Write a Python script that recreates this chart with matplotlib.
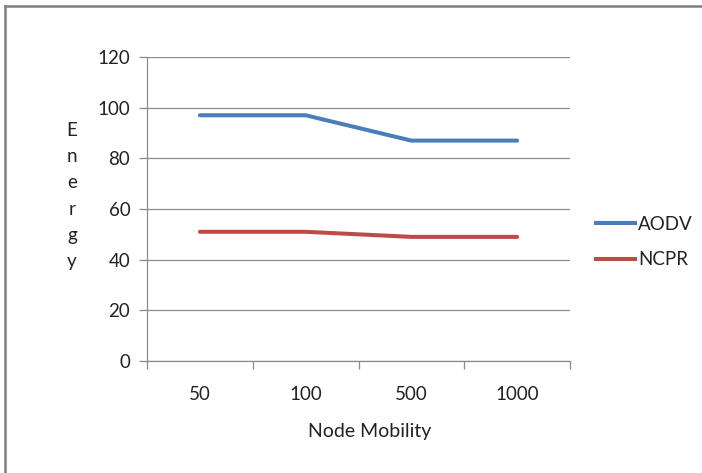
import matplotlib.pyplot as plt
from matplotlib.lines import Line2D

plt.rcParams['font.family'] = ['Lato', 'DejaVu Sans']

mobility = ['50', '100', '500', '1000']
aodv = [97, 97, 87, 87]
ncpr = [51, 51, 49, 49]

W, H = 702, 473
fig = plt.figure(figsize=(W / 100, H / 100), dpi=100)
ax = fig.add_axes([147 / W, 1 - 361 / H, (570 - 147) / W, (361 - 57) / H])

x = range(len(mobility))
ax.plot(x, aodv, color='#4A7EBB', lw=2.9, solid_capstyle='round', label='AODV')
ax.plot(x, ncpr, color='#BE4B48', lw=2.9, solid_capstyle='round', label='NCPR')

ax.set_xlim(-0.5, len(mobility) - 0.5)
ax.set_ylim(0, 120)
ax.set_yticks(range(0, 121, 20))
ax.yaxis.grid(True, color='#8c8c8c', lw=0.9)
ax.set_axisbelow(True)

# category labels sit between the tick marks, like an Excel category axis
ax.set_xticks(list(x))
ax.set_xticklabels(mobility)
ax.set_xticks([i - 0.5 for i in range(len(mobility) + 1)], minor=True)
ax.tick_params(axis='x', which='major', length=0, pad=18, labelsize=13.5, colors='#222222')
ax.tick_params(axis='x', which='minor', length=6, color='#8c8c8c', width=0.9)
ax.tick_params(axis='y', length=6, color='#8c8c8c', width=0.9, pad=6, labelsize=13.5, labelcolor='#222222')

for side in ['top', 'right']:
    ax.spines[side].set_visible(False)
for side in ['left', 'bottom']:
    ax.spines[side].set_color('#8c8c8c')
    ax.spines[side].set_linewidth(0.9)

fig.text(370 / W, 1 - 431 / H, 'Node Mobility', ha='center', va='center',
         fontsize=14, color='#222222')
fig.text(72 / W, 1 - 196 / H, '\n'.join('Energy'), ha='center', va='center',
         fontsize=13.5, color='#222222', linespacing=1.65)

handles = [Line2D([], [], color='#4A7EBB', lw=2.9),
           Line2D([], [], color='#BE4B48', lw=2.9)]
fig.legend(handles, ['AODV', 'NCPR'], loc='center left',
           bbox_to_anchor=(579 / W, 1 - 242 / H), frameon=False,
           fontsize=13.5, handlelength=2.1, handletextpad=0.15,
           labelspacing=1.0, labelcolor='#222222')

# outer chart frame: only the top and left edges fall inside the image
fig.add_artist(Line2D([5 / W, 5 / W], [0, 1 - 6 / H], color='#808080', lw=1.8,
                      transform=fig.transFigure))
fig.add_artist(Line2D([5 / W, 1], [1 - 6 / H, 1 - 6 / H], color='#808080', lw=1.8,
                      transform=fig.transFigure))

fig.savefig('out.png', dpi=100)
